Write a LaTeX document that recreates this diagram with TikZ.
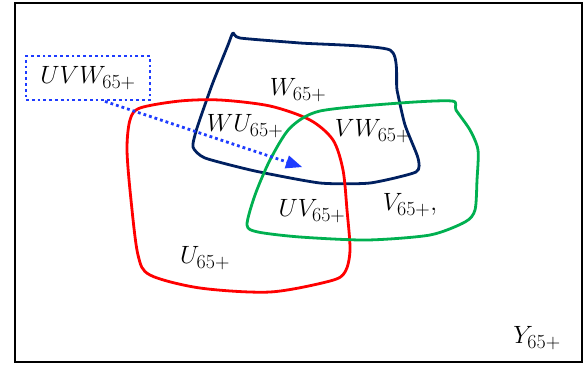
\RequirePackage{fix-cm}
\documentclass[tikz,border=0pt]{standalone}
\usepackage{amsmath,amssymb}
\usepackage{tikz}
\usetikzlibrary{arrows,calc,positioning}
\DeclareMathSizes{25}{25}{20}{16}
\definecolor{navyW}{RGB}{0,32,96}
\definecolor{redU}{RGB}{255,0,0}
\definecolor{greenV}{RGB}{0,176,80}
\definecolor{blueUVW}{RGB}{30,60,255}
\begin{document}
\begin{tikzpicture}[x=1pt,y=-1pt]
\tikzstyle{set}=[line width=2.8pt,line join=round]
\tikzstyle{lbl}=[inner sep=0pt,font=\fontsize{25}{30}\selectfont]
\tikzstyle{dots}=[blueUVW,line width=2.8pt,dash pattern=on 2.8pt off 3pt]
\useasboundingbox (0,0) rectangle (585,365);
\draw[line width=2.2pt] (15,3) rectangle (582,362);
% the three sets
\draw[set,navyW] plot[smooth cycle,tension=0.35] coordinates {(233,33) (240,38)
  (300,43) (390,50) (397,90) (405,125) (418,158) (416,172) (370,183) (320,183)
  (255,171) (205,158) (193,147) (197,128) (212,85) (228,45)};
\draw[set,redU] plot[smooth cycle,tension=0.5] coordinates {(127,150) (130,120)
  (140,108) (180,101) (220,100) (270,106) (310,120) (333,140) (343,170) (347,210)
  (350,250) (345,272) (330,281) (270,292) (200,288) (150,275) (138,255) (131,200)};
\draw[set,greenV] plot[smooth cycle,tension=0.45] coordinates {(247,225) (255,195)
  (270,160) (290,128) (320,111) (400,103) (452,101) (456,110) (470,130) (478,150)
  (477,180) (475,210) (465,222) (430,235) (367,240) (300,237) (258,232)};
% labels
\node[lbl] (W) at (298,90) {$W_{65+}$};
\node[lbl] (WU) at (245,126) {$WU_{65+}$};
\node[lbl] (VW) at (373,131) {$VW_{65+}$};
\node[lbl] (UV) at (312,211) {$UV_{65+}$};
\node[lbl] (V) at (410,205) {$V_{65+},$};
\node[lbl] (U) at (205,258) {$U_{65+}$};
\node[lbl] (Y) at (537,338) {$Y_{65+}$};
% the box and its arrow
\node[lbl,dots,draw,minimum width=124pt,minimum height=44pt] (UVW) at (88,78)
  {\color{black}$UVW_{65+}$};
\coordinate (tip) at (302,167);
\tikzset{>={triangle 45}}
\draw[dots,->] ([xshift=17pt]UVW.south) -- (tip);
\end{tikzpicture}
\end{document}
